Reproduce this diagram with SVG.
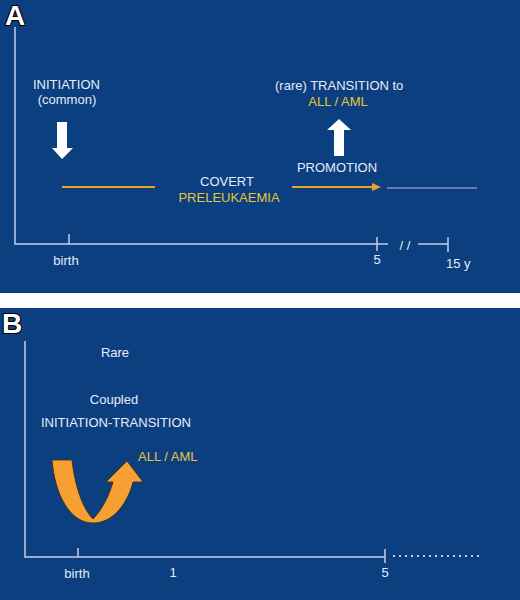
<svg xmlns="http://www.w3.org/2000/svg" width="520" height="600" viewBox="0 0 520 600">
<style>
.bg{fill:#0c3f80}
.t{font-family:"Liberation Sans",Arial,sans-serif;font-size:13px;fill:#e6ecf7}
.y{fill:#e9c53c}
.m{text-anchor:middle}
.lab{font-family:"Liberation Sans",Arial,sans-serif;font-size:28px;font-weight:bold;fill:#ffffff;stroke:#000;stroke-width:2.2;paint-order:stroke;stroke-linejoin:round}
.ax{stroke:#c9cdea;stroke-width:1.5;fill:none}
.or{stroke:#f0a030;stroke-width:2.2;fill:none}
</style>
<rect x="0" y="0" width="520" height="600" fill="#ffffff"/>
<rect class="bg" x="0" y="0" width="520" height="293"/>
<rect class="bg" x="0" y="308" width="520" height="292"/>

<g id="panelA-label"><text class="lab" x="5" y="25">A</text></g>
<g id="panelB-label"><text class="lab" x="2" y="333">B</text></g>

<g id="axesA">
<polyline class="ax" points="15,27 15,244 388,244"/>
<line class="ax" x1="69" y1="234" x2="69" y2="244"/>
<line class="ax" x1="377" y1="237" x2="377" y2="251"/>
<line class="ax" x1="418" y1="244" x2="448" y2="244"/>
<line class="ax" x1="448" y1="237" x2="448" y2="252"/>
</g>

<g id="axesB">
<polyline class="ax" points="25,341 25,557 385,557"/>
<line class="ax" x1="78" y1="548" x2="78" y2="557"/>
<line class="ax" x1="385" y1="549" x2="385" y2="563"/>
<line stroke="#c9cdea" stroke-width="2" stroke-dasharray="2 4" x1="393" y1="556" x2="480" y2="556"/>
</g>

<g id="connectors">
<polygon fill="#ffffff" points="57,122 67,122 67,148 73,148 62,159 52,148 57,148"/>
<polygon fill="#ffffff" points="339,119 351,130 344,130 344,156 334,156 334,130 327,130"/>
<line class="or" x1="62" y1="187" x2="155" y2="187"/>
<line class="or" x1="292" y1="187" x2="374" y2="187"/>
<polygon fill="#f0a030" points="372,183 381,187 372,191"/>
<line stroke="#7f8fc0" stroke-width="1.5" x1="387" y1="188" x2="477" y2="188"/>
<path fill="#f6a033" stroke="#3a2a10" stroke-width="0.8" d="M52,460 L72,460 C75,487 83,509 93,519 C102,510 109,496 113,482 L106,482 L127,461 L143,482 L133,482 C128,502 114,523 93,523 C70,523 55,495 52,460 Z"/>
</g>

<g id="initiation"><text class="t" x="33" y="89">INITIATION</text><text class="t m" x="67" y="104">(common)</text></g>
<g id="transition"><text class="t" x="275" y="90">(rare) TRANSITION to</text><text class="t y m" x="338" y="106">ALL / AML</text></g>
<g id="promotion"><text class="t m" x="337" y="172">PROMOTION</text></g>
<g id="covert"><text class="t m" x="227" y="186">COVERT</text><text class="t y m" x="229" y="202">PRELEUKAEMIA</text></g>
<g id="ticksA"><text class="t m" x="66" y="265">birth</text><text class="t m" x="377" y="264">5</text><text class="t m" x="405" y="250">/ /</text><text class="t" x="446" y="268">15 y</text></g>

<g id="rare"><text class="t m" x="115" y="357">Rare</text></g>
<g id="coupled"><text class="t m" x="114" y="404">Coupled</text><text class="t" x="41" y="427">INITIATION-TRANSITION</text></g>
<g id="allamlB"><text class="t y" x="138" y="461">ALL / AML</text></g>
<g id="ticksB"><text class="t m" x="77" y="578">birth</text><text class="t m" x="173" y="577">1</text><text class="t m" x="385" y="577">5</text></g>
</svg>
